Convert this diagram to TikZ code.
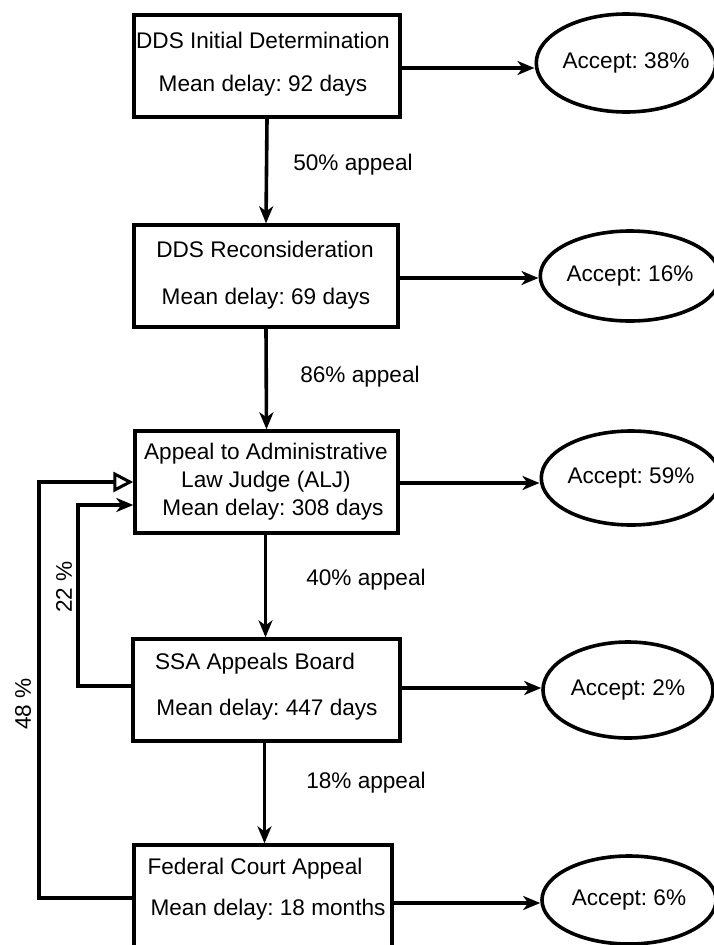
\documentclass[tikz,border=0pt]{standalone}
\usepackage{fontspec}
\setmainfont{Liberation Sans}
\usetikzlibrary{shapes.geometric,arrows.meta,calc}
\begin{document}
\frenchspacing
\begin{tikzpicture}[x=1pt,y=-1pt,
  every node/.style={font=\fontsize{22.6}{27}\selectfont},
  stagebox/.style={draw,line width=3.4pt,minimum width=#1,minimum height=102pt,inner sep=0pt},
  outcome/.style={draw,ellipse,line width=3.6pt,inner sep=0pt},
  txt/.style={inner sep=0pt,anchor=center},
  flow/.style={line width=3.6pt,-{Stealth[length=17pt,width=14pt,inset=5pt]}},
  openflow/.style={line width=3.6pt,-{Triangle[open,length=20pt,width=20pt,line width=3pt]}},
  plain/.style={line width=3.6pt}]
\useasboundingbox (0,0) rectangle (714,945);
\fill[white] (0,0) rectangle (714,945);
\clip (0,0) rectangle (714,945);

% stage boxes
\node[stagebox=266pt] (b1) at (267,66) {};
\node[stagebox=264pt] (b2) at (266,276) {};
\node[stagebox=263pt] (b3) at (266.5,482) {};
\node[stagebox=267pt] (b4) at (266.5,690) {};
\node[stagebox=258pt,minimum height=116pt] (b5) at (263,903) {};

% box texts
\node[txt] (t1a) at (263,40) {DDS Initial Determination};
\node[txt] (t1b) at (263,86) {Mean delay: 92 days};
\node[txt] (t2a) at (265,249) {DDS Reconsideration};
\node[txt] (t2b) at (266,299) {Mean delay: 69 days};
\node[txt] (t3a) at (266,454) {Appeal to Administrative};
\node[txt] (t3b) at (266,482) {Law Judge (ALJ)};
\node[txt] (t3c) at (273,510) {Mean delay: 308 days};
\node[txt] (t4a) at (255,664) {SSA Appeals Board};
\node[txt] (t4b) at (267,710) {Mean delay: 447 days};
\node[txt] (t5a) at (255,869) {Federal Court Appeal};
\node[txt] (t5b) at (268,910) {Mean delay: 18 months};

% outcome ellipses
\node[outcome,minimum width=178pt,minimum height=98pt] (e1) at (626,63) {Accept: 38\%};
\node[outcome,minimum width=176pt,minimum height=90pt] (e2) at (630,276) {Accept: 16\%};
\node[outcome,minimum width=176pt,minimum height=94pt] (e3) at (631,478) {Accept: 59\%};
\node[outcome,minimum width=170pt,minimum height=96pt] (e4) at (628,690) {Accept: 2\%};
\node[outcome,minimum width=174pt,minimum height=88pt] (e5) at (629,900) {Accept: 6\%};

% horizontal arrows
\draw[flow] ([yshift=-2pt]b1.east) -- ([yshift=-2pt]b1.east -| e1.west);
\draw[flow] ([yshift=-2pt]b2.east) -- ([yshift=-2pt]b2.east -| e2.west);
\draw[flow] ([yshift=-1pt]b3.east) -- ([yshift=-1pt]b3.east -| e3.west);
\draw[flow] ([yshift=2pt]b4.east) -- ([yshift=2pt]b4.east -| e4.west);
\draw[flow] (b5.east) -- (b5.east -| e5.west);

% vertical arrows
\draw[flow] (b1.south) -- (b2.north);
\draw[flow] (b2.south) -- (b3.north);
\draw[flow] ([xshift=-1pt]b3.south) -- ([xshift=-1pt]b4.north);
\draw[flow] ([xshift=-2pt]b4.south) -- ([xshift=-2pt]b4.south |- b5.north);

\node[txt] (l1) at (353,165) {50\% appeal};
\node[txt] (l2) at (360,377) {86\% appeal};
\node[txt] (l3) at (366,580) {40\% appeal};
\node[txt] (l4) at (366,783) {18\% appeal};

% feedback loops
\coordinate (k1) at (78,505);
\coordinate (k2) at (39,482);
\draw[flow] ([yshift=4pt]b4.west) -| (k1) -- (k1 -| b3.west);
\draw[openflow] ([yshift=5pt]b5.west) -| (k2) -- (k2 -| b3.west);
\node[txt,rotate=90] (p22) at (64,587) {22 \%};
\node[txt,rotate=90] (p48) at (23,704) {48 \%};
\end{tikzpicture}
\end{document}
